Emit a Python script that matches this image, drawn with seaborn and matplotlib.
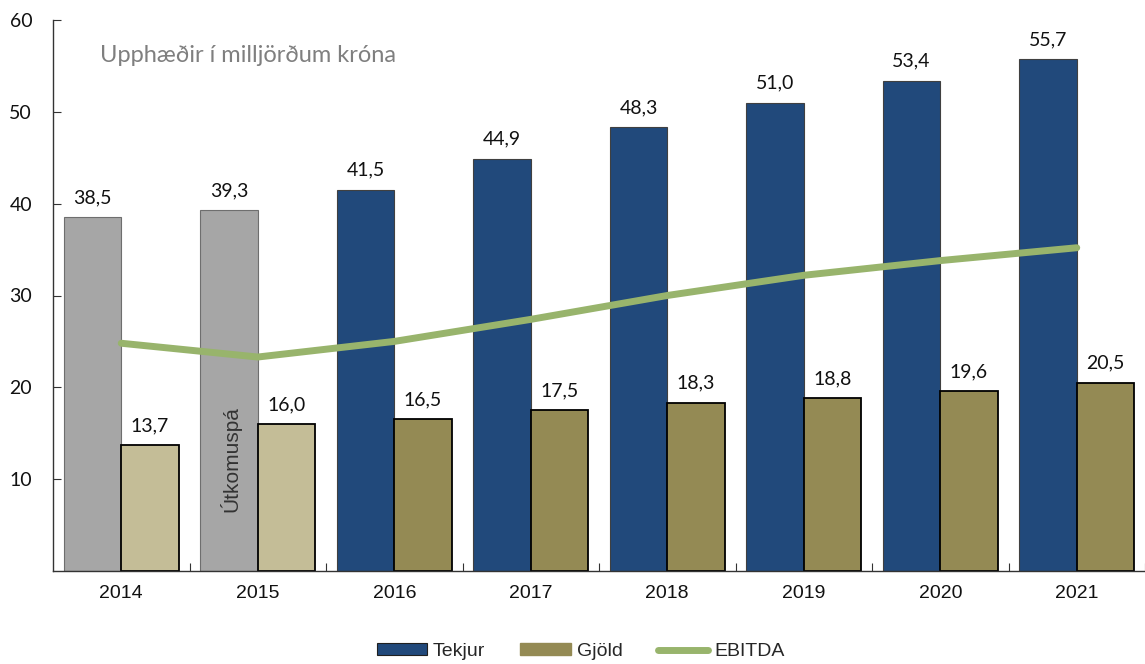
import pandas as pd
import seaborn as sns
import numpy as np
import matplotlib
matplotlib.use("Agg")
from matplotlib import pyplot as plt
from matplotlib.patches import Patch
from matplotlib.lines import Line2D

# data
years = ['2014', '2015', '2016', '2017', '2018', '2019', '2020', '2021']
tekjur = [38.5, 39.3, 41.5, 44.9, 48.3, 51.0, 53.4, 55.7]
gjold = [13.7, 16.0, 16.5, 17.5, 18.3, 18.8, 19.6, 20.5]
ebitda = [24.8, 23.3, 25.0, 27.4, 30.0, 32.2, 33.8, 35.2]
n_actual = 2  # first two years drawn in the lighter "actual/outcome" colours

blue = '#21497B'
olive = '#948A54'
grey = '#A6A6A6'
tan = '#C4BD97'
green = '#98B46C'

df = pd.DataFrame({'year': years * 2,
                   'value': tekjur + gjold,
                   'series': ['Tekjur'] * len(years) + ['Gjöld'] * len(years)})

sns.set_theme(style='white')
plt.rcParams['font.family'] = ['Liberation Sans', 'DejaVu Sans']

fig = plt.figure(figsize=(11.45, 6.64), dpi=100)
ax = fig.add_axes([53 / 1145, 93 / 664, 1 - 53 / 1145, (571 - 20) / 664])

sns.barplot(data=df, x='year', y='value', hue='series', order=years,
            hue_order=['Tekjur', 'Gjöld'], palette=[blue, olive],
            saturation=1, width=0.84, gap=0, legend=False, ax=ax, zorder=2)

cont_t, cont_g = ax.containers[0], ax.containers[1]
for i, bar in enumerate(cont_t):
    if i < n_actual:
        bar.set_facecolor(grey)
        bar.set_edgecolor('#6e6e6e')
    else:
        bar.set_edgecolor('#404040')
    bar.set_linewidth(0.8)
for i, bar in enumerate(cont_g):
    if i < n_actual:
        bar.set_facecolor(tan)
    bar.set_edgecolor('black')
    bar.set_linewidth(1.3)

fmt = lambda vals: [f'{v:.1f}'.replace('.', ',') for v in vals]
for cont, vals in [(cont_t, tekjur), (cont_g, gjold)]:
    ax.bar_label(cont, labels=fmt(vals), padding=8, fontsize=14,
                 family=['Lato', 'DejaVu Sans'], color='#111111')

sns.pointplot(x=years, y=ebitda, order=years, color=green, markers='',
              linestyles='-', linewidth=5, errorbar=None, ax=ax,
              zorder=3, solid_capstyle='round')

ax.set_xlim(-0.5, -0.5 + (1145 - 53) / 137.9)
ax.set_ylim(0, 60)
ax.set_yticks([10, 20, 30, 40, 50, 60])
ax.set_xlabel('')
ax.set_ylabel('')
ax.set_xticks(np.arange(len(years)) + 0.5, minor=True)
ax.tick_params(axis='x', which='major', length=0, pad=10, labelsize=14,
               labelcolor='#111111')
ax.tick_params(axis='x', which='minor', direction='in', length=6,
               width=0.8, color='#333333', bottom=True)
ax.tick_params(axis='y', direction='in', length=6, width=0.8,
               color='#333333', left=True, pad=15, labelsize=14,
               labelcolor='#111111')
for lab in ax.get_yticklabels():
    lab.set_family(['Lato', 'DejaVu Sans'])

for side in ['top', 'right']:
    ax.spines[side].set_visible(False)
for side in ['left', 'bottom']:
    ax.spines[side].set_color('#333333')
    ax.spines[side].set_linewidth(1.0)

ax.text(0.043, 0.935, 'Upphæðir í milljörðum króna', transform=ax.transAxes,
        fontsize=17, color='#7F7F7F', family=['Lato', 'DejaVu Sans'],
        va='center', ha='left')
ax.text(0.8, 6.4, 'Útkomuspá', rotation=90, fontsize=15,
        color='#333333', ha='center', va='bottom')

handles = [Patch(facecolor=blue, edgecolor='#202020', linewidth=0.8),
           Patch(facecolor=olive, edgecolor=olive),
           Line2D([], [], color=green, linewidth=5, solid_capstyle='round')]
fig.legend(handles, ['Tekjur', 'Gjöld', 'EBITDA'], loc='center',
           bbox_to_anchor=(0.507, 0.019), ncol=3, frameon=False,
           fontsize=14, handlelength=2.6, handleheight=0.5,
           handletextpad=0.3, columnspacing=1.8)

fig.savefig('out.png', dpi=100)
